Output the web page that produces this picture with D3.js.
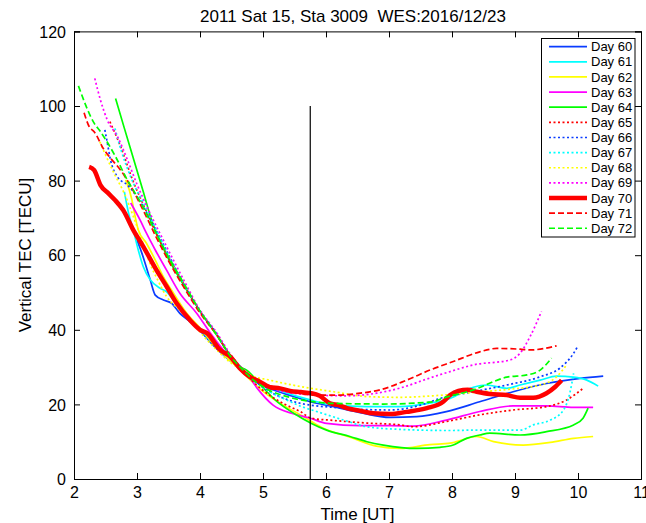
<!DOCTYPE html>
<html>
<head>
<meta charset="utf-8">
<script src="https://cdn.jsdelivr.net/npm/d3@7.9.0/dist/d3.min.js"></script>
<style>
  html, body { margin: 0; padding: 0; background: #fff; }
  svg { display: block; font-family: Arial, "Liberation Sans", sans-serif; }
</style>
</head>
<body>
<svg id="chart" width="646" height="523"></svg>
<script>
// tick labels
const xTicks = [2, 3, 4, 5, 6, 7, 8, 9, 10, 11];
const yTicks = [0, 20, 40, 60, 80, 100, 120];
const markerTime = 5.75;
const markerTop = 100;

// series: [time UT, vertical TEC]
const day60 = [[3.0,64],[3.07,60.9],[3.21,53.4],[3.29,49.3],[3.42,48.0],[3.55,47.1],[3.68,44.4],[3.84,42.2],[4.0,39.8],[4.2,36],[4.4,32.8],[4.6,30],[4.79,27],[5.0,25],[5.32,23],[5.55,21.8],[5.75,20.7],[6.12,19.4],[6.54,17.8],[7.02,16.5],[7.44,16.7],[7.91,18.05],[8.44,20.7],[8.97,23.4],[9.5,25.6],[10.03,27.0],[10.4,27.6]];
const day61 = [[2.8,77],[2.87,71],[2.94,66.8],[3.02,61.4],[3.1,56.9],[3.21,53.4],[3.37,51.1],[3.47,50.2],[3.6,47.5],[3.8,43.5],[4.0,40.2],[4.2,36.5],[4.4,33],[4.6,30],[4.8,27.3],[5.0,25.5],[5.32,23.4],[5.75,21.2],[6.12,19.8],[6.65,19.4],[7.18,19.4],[7.6,20.2],[7.97,21.6],[8.34,24.6],[8.55,25.2],[8.87,24.3],[9.08,25.2],[9.4,26.5],[9.66,27.6],[9.93,27.3],[10.14,26.5],[10.32,24.9]];
const day62 = [[2.82,80.2],[2.92,74.8],[2.96,71.2],[3.02,66.8],[3.15,63.2],[3.29,58.7],[3.42,54.2],[3.58,49.8],[3.79,44.4],[4.0,40.5],[4.2,36.5],[4.4,33],[4.6,29.8],[4.8,26.5],[5.0,23.5],[5.3,20],[5.59,17.2],[5.77,15.4],[5.96,13.6],[6.38,11.2],[6.8,8.8],[7.18,8.2],[7.65,9.2],[7.97,9.6],[8.07,10.0],[8.39,11.4],[8.66,10.0],[9.13,9.1],[9.56,9.8],[9.93,10.9],[10.24,11.4]];
const day63 = [[2.9,74],[3.05,69.4],[3.15,65.9],[3.29,61.4],[3.47,56.0],[3.68,49.8],[3.95,44.4],[4.15,39.5],[4.4,34],[4.6,30.2],[4.74,28.3],[4.9,24.5],[5.16,19.8],[5.48,17.5],[5.75,16.3],[6.01,14.9],[6.54,14.3],[7.02,14.3],[7.39,14.2],[7.91,15.8],[8.44,18.1],[8.97,19.6],[9.5,19.6],[9.93,19.2],[10.24,19.2]];
const day64 = [[2.66,102],[2.8,94],[2.95,85.5],[3.1,77],[3.22,70],[3.47,60],[3.74,52],[4.0,45],[4.27,38.5],[4.48,33.2],[4.65,30],[4.74,29.2],[5.0,24.5],[5.22,20.8],[5.5,17.5],[5.77,14.9],[6.01,13.1],[6.38,11.4],[6.65,10.0],[6.91,9.1],[7.44,8.2],[7.81,8.5],[8.02,9.1],[8.23,10.9],[8.44,11.8],[8.6,12.3],[9.08,11.8],[9.5,12.7],[9.93,14.5],[10.08,16.3],[10.16,19.0]];
const day65 = [[2.57,95.8],[2.74,89.1],[2.93,80.2],[3.14,72.1],[3.3,66],[3.5,59.5],[3.74,52.5],[4.0,45],[4.27,38.5],[4.48,33],[4.65,29.8],[4.85,26],[5.1,22.5],[5.35,20],[5.59,18.1],[5.77,16.3],[6.12,15.7],[6.65,15.0],[7.18,14.5],[7.39,14.0],[7.91,15.4],[8.44,17.2],[8.97,18.5],[9.5,19.4],[9.82,21.2],[10.08,24.3]];
const day66 = [[2.49,93.6],[2.53,90],[2.58,85.5],[2.69,81],[2.85,78.8],[3.0,75.7],[3.19,70.3],[3.4,63.5],[3.7,53.5],[4.0,45],[4.27,38.8],[4.48,33],[4.65,29.8],[4.85,26.5],[5.1,23.5],[5.35,21.5],[5.59,20.3],[5.75,19.8],[6.12,19.2],[6.65,18.6],[7.02,18.5],[7.5,19.8],[7.81,21.6],[8.34,23.4],[8.87,25.2],[9.4,27.4],[9.71,29.7],[9.93,33.7],[10.0,35.7]];
const day67 = [[2.65,94],[2.75,88],[2.9,81],[3.1,74],[3.3,67],[3.5,60],[3.74,52.5],[4.0,45],[4.27,38.5],[4.48,33],[4.65,30],[4.85,26.5],[5.1,23.5],[5.4,21],[5.6,19.5],[5.85,18.1],[6.28,15.8],[6.65,14.0],[7.18,13.3],[7.97,13.0],[8.34,13.1],[9.08,13.1],[9.29,14.5],[9.56,15.8],[9.77,18.5],[9.87,23.0],[9.93,28.3]];
const day68 = [[2.41,90.4],[2.5,86.9],[2.65,81.5],[2.8,76.5],[2.95,70],[3.1,63],[3.2,58],[3.31,54],[3.47,48.9],[3.68,45.3],[3.84,42.6],[4.11,37.3],[4.32,33.7],[4.5,31],[4.65,29.5],[4.79,27.9],[5.11,26.5],[5.59,24.8],[6.12,23.4],[6.65,22.1],[7.18,21.9],[7.7,22.3],[8.34,23.2],[8.87,24.0],[9.4,25.2],[9.66,27.4],[9.82,30.6]];
const day69 = [[2.33,107.4],[2.42,101.6],[2.53,96.2],[2.69,91.8],[2.85,85.5],[3.0,79],[3.2,71.5],[3.47,62.3],[3.74,53.4],[4.0,45.3],[4.27,39.1],[4.48,33.5],[4.65,30],[4.85,26.8],[5.1,24.5],[5.4,23.2],[5.85,22.5],[6.3,22.3],[6.8,23.0],[7.2,24.5],[7.6,26.8],[7.97,28.8],[8.34,30.6],[8.92,31.9],[9.08,33.7],[9.24,38.2],[9.42,44.9]];
const day70 = [[2.24,83.7],[2.32,82.8],[2.42,78.8],[2.55,76.5],[2.65,74.8],[2.78,72.1],[2.94,66.8],[3.1,62.3],[3.31,56],[3.47,51.6],[3.63,47.1],[3.84,42.6],[4.0,40],[4.11,39.1],[4.32,34.6],[4.48,32.8],[4.63,29.7],[4.79,27.4],[4.95,26.1],[5.11,24.6],[5.27,24.3],[5.43,23.6],[5.6,23.3],[5.77,23.0],[5.9,22.3],[6.06,20.3],[6.2,19.8],[6.33,19.0],[6.54,18.3],[6.75,17.6],[7.02,17.4],[7.28,18.0],[7.6,19.0],[7.86,20.7],[7.97,22.5],[8.1,23.6],[8.25,23.9],[8.39,23.4],[8.6,22.8],[8.87,22.5],[9.08,21.8],[9.29,21.8],[9.5,23.0],[9.63,24.6],[9.74,26.5]];
const day71 = [[2.16,98.2],[2.24,94.5],[2.32,93.1],[2.48,88.2],[2.58,86],[2.74,82.8],[2.9,78.5],[3.1,72],[3.3,65],[3.5,58.5],[3.74,51.5],[4.0,44.5],[4.27,38.5],[4.48,33],[4.65,29.8],[4.85,26.8],[5.1,25],[5.4,23.8],[5.8,22.5],[6.17,22.5],[6.54,23.0],[6.86,23.9],[7.28,26.5],[7.65,29.2],[8.02,31.5],[8.44,34.1],[8.71,35.0],[9.08,34.8],[9.24,34.6],[9.66,35.7]];
const day72 = [[2.07,105.4],[2.32,95.4],[2.42,93.1],[2.66,86.4],[2.82,81],[3.06,74],[3.3,66],[3.5,59.5],[3.74,52.5],[4.0,45],[4.27,38.5],[4.48,33],[4.65,29.8],[4.85,26.5],[5.1,23.8],[5.4,22],[5.75,20.8],[6.12,20.3],[6.91,20.1],[7.7,20.7],[7.81,21.4],[8.34,23.9],[8.87,27.3],[9.19,27.9],[9.4,29.2],[9.58,32.4]];

const dayLabels = ['Day 60','Day 61','Day 62','Day 63','Day 64','Day 65','Day 66','Day 67','Day 68','Day 69','Day 70','Day 71','Day 72'];
const dayData = [day60, day61, day62, day63, day64, day65, day66, day67, day68, day69, day70, day71, day72];

// matlab-ish line styles
const lineColor = ['#0a3cff','#00ffff','#ffff00','#ff00ff','#00ff00','#ff0000','#0a3cff','#00ffff','#ffff00','#ff00ff','#ff0000','#ff0000','#00ff00'];
const lineDash = ['none','none','none','none','none','2,2.5','2,2.5','2,2.5','2,2.5','2,2.5','none','6,3','6,3'];
const lineWidth = [1.7,1.7,1.7,1.7,1.7,1.7,1.7,1.7,1.7,1.7,4.5,1.7,1.7];

const svg = d3.select('#chart');
const margin = {left: 74, right: 5, top: 31.4, bottom: 44};
const W = 646, H = 523;

const x = d3.scaleLinear().domain([2, 11]).range([margin.left, W - margin.right]);
const y = d3.scaleLinear().domain([0, 120]).range([H - margin.bottom, margin.top]);

const plot = svg.append('g');
svg.append('clipPath').attr('id', 'clip')
  .append('rect')
  .attr('x', x(2)).attr('y', y(120))
  .attr('width', x(11) - x(2)).attr('height', y(0) - y(120));

const line = d3.line()
  .x(d => x(d[0]))
  .y(d => y(d[1]))
  .curve(d3.curveMonotoneX);

// draw order: same as legend
dayData.forEach((d, i) => {
  plot.append('path')
    .datum(d)
    .attr('clip-path', 'url(#clip)')
    .attr('fill', 'none')
    .attr('stroke', lineColor[i])
    .attr('stroke-width', lineWidth[i])
    .attr('stroke-dasharray', lineDash[i])
    .attr('stroke-linejoin', 'round')
    .attr('d', line);
});

// vertical marker
svg.append('line')
  .attr('x1', x(markerTime)).attr('x2', x(markerTime))
  .attr('y1', y(0)).attr('y2', y(markerTop))
  .attr('stroke', '#000').attr('stroke-width', 1.2);

// axes (inward ticks, boxed)
const tickLen = 6;
const axB = svg.append('g').attr('transform', `translate(0,${y(0)})`)
  .call(d3.axisBottom(x).tickValues(xTicks).tickSize(-tickLen).tickPadding(8).tickFormat(d3.format('d')));
const axT = svg.append('g').attr('transform', `translate(0,${y(120)})`)
  .call(d3.axisTop(x).tickValues(xTicks).tickSize(-tickLen).tickFormat(''));
const axL = svg.append('g').attr('transform', `translate(${x(2)},0)`)
  .call(d3.axisLeft(y).tickValues(yTicks).tickSize(-tickLen).tickPadding(8).tickFormat(d3.format('d')));
const axR = svg.append('g').attr('transform', `translate(${x(11)},0)`)
  .call(d3.axisRight(y).tickValues(yTicks).tickSize(-tickLen).tickFormat(''));

[axB, axT, axL, axR].forEach(a => {
  a.selectAll('path.domain').attr('stroke', '#000').attr('stroke-width', 1);
  a.selectAll('line').attr('stroke', '#000').attr('stroke-width', 1);
  a.selectAll('text').attr('fill', '#000').style('font-size', '16px')
    .style('font-family', 'Arial, "Liberation Sans", sans-serif');
});
axB.selectAll('text').attr('dy', '0.71em');
axL.selectAll('text').attr('dy', '0.35em');

// title and labels
svg.append('text')
  .attr('x', 353).attr('y', 22)
  .attr('text-anchor', 'middle')
  .style('font-size', '17px')
  .style('white-space', 'pre')
  .text('2011 Sat 15, Sta 3009  WES:2016/12/23');

svg.append('text')
  .attr('x', (x(2) + x(11)) / 2).attr('y', 519.5)
  .attr('text-anchor', 'middle')
  .style('font-size', '17px')
  .text('Time [UT]');

svg.append('text')
  .attr('transform', 'translate(31,255) rotate(-90)')
  .attr('text-anchor', 'middle')
  .style('font-size', '17px')
  .text('Vertical TEC [TECU]');

// legend
const lg = svg.append('g');
lg.append('rect')
  .attr('x', 541.5).attr('y', 38.5)
  .attr('width', 93.5).attr('height', 198.5)
  .attr('fill', '#fff').attr('stroke', '#000').attr('stroke-width', 1);

dayLabels.forEach((lab, i) => {
  const ry = 46.7 + i * 15.13;
  lg.append('line')
    .attr('x1', 549).attr('x2', 587)
    .attr('y1', ry).attr('y2', ry)
    .attr('stroke', lineColor[i])
    .attr('stroke-width', lineWidth[i])
    .attr('stroke-dasharray', lineDash[i]);
  lg.append('text')
    .attr('x', 591).attr('y', ry)
    .attr('dy', '0.35em')
    .style('font-size', '13px')
    .text(lab);
});
</script>
</body>
</html>
